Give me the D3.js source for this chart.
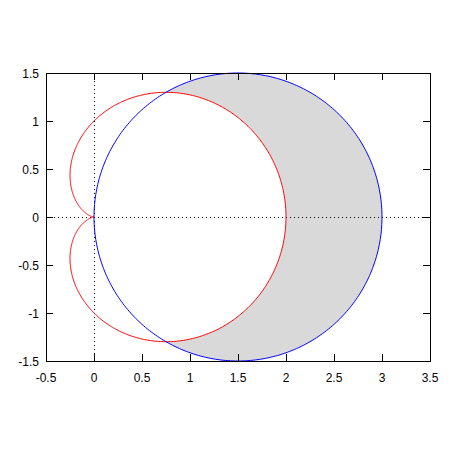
<!DOCTYPE html>
<html lang="en">
<head>
  <meta charset="UTF-8">
  <title>cardioid and circle</title>
  <script src="https://cdn.jsdelivr.net/npm/d3@7"></script>
  <style>
    body { margin: 0; background: #fff; }
    text { font-family: "Liberation Sans", Arial, sans-serif; font-size: 12px; fill: #000; }
  </style>
</head>
<body>
  <svg width="450" height="450" id="main"></svg>
<script>
  // tick labels
  const xTicks = [-0.5, 0, 0.5, 1, 1.5, 2, 2.5, 3, 3.5];
  const yTicks = [-1.5, -1, -0.5, 0, 0.5, 1, 1.5];
  // curve parameters: r = a + b*cos(t)  (cardioid), r = d*cos(t)  (circle)
  const cardioidAB = [1, 1];
  const circleD = [3];
  const xDomain = [-0.5, 3.5];
  const yDomain = [-1.5, 1.5];

  const svg = d3.select('#main');
  const box = { left: 46, right: 430, top: 73, bottom: 361 };

  const x = d3.scaleLinear().domain(xDomain).range([box.left, box.right]);
  const y = d3.scaleLinear().domain(yDomain).range([box.bottom, box.top]);

  // sample the polar curves
  const angles = d3.range(0, 721).map(i => i * Math.PI / 360);
  const cardPts = angles.map(t => {
    const r = cardioidAB[0] + cardioidAB[1] * Math.cos(t);
    return [r * Math.cos(t), r * Math.sin(t)];
  });
  const circPts = angles.slice(0, 361).map(t => {
    const r = circleD[0] * Math.cos(t);
    return [r * Math.cos(t), r * Math.sin(t)];
  });

  const line = d3.line().x(d => x(d[0])).y(d => y(d[1]));

  // shaded area: inside circle, outside cardioid
  svg.append('path').attr('d', line(circPts) + 'Z').attr('fill', '#d9d9d9');
  svg.append('path').attr('d', line(cardPts) + 'Z').attr('fill', '#fff');

  // zero axes (dotted)
  svg.append('line')
    .attr('x1', x(0)).attr('x2', x(0)).attr('y1', box.top).attr('y2', box.bottom)
    .attr('stroke', '#000').attr('stroke-dasharray', '1,3').attr('shape-rendering', 'crispEdges');
  svg.append('line')
    .attr('x1', box.left).attr('x2', box.right).attr('y1', y(0)).attr('y2', y(0))
    .attr('stroke', '#000').attr('stroke-dasharray', '1,3').attr('shape-rendering', 'crispEdges');

  // curves
  svg.append('path').attr('d', line(cardPts)).attr('fill', 'none').attr('stroke', '#ff0000').attr('stroke-width', 1);
  svg.append('path').attr('d', line(circPts)).attr('fill', 'none').attr('stroke', '#0000ff').attr('stroke-width', 1);

  // border + mirrored ticks
  const tickLen = 7;
  const g = svg.append('g').attr('shape-rendering', 'crispEdges');
  g.append('rect')
    .attr('x', box.left).attr('y', box.top)
    .attr('width', box.right - box.left).attr('height', box.bottom - box.top)
    .attr('fill', 'none').attr('stroke', '#000');

  xTicks.forEach(v => {
    g.append('line').attr('x1', x(v)).attr('x2', x(v)).attr('y1', box.bottom).attr('y2', box.bottom - tickLen).attr('stroke', '#000');
    g.append('line').attr('x1', x(v)).attr('x2', x(v)).attr('y1', box.top).attr('y2', box.top + tickLen).attr('stroke', '#000');
    svg.append('text').attr('x', x(v)).attr('y', box.bottom + 21)
      .attr('text-anchor', 'middle').text(v);
  });
  yTicks.forEach(v => {
    g.append('line').attr('x1', box.left).attr('x2', box.left + tickLen).attr('y1', y(v)).attr('y2', y(v)).attr('stroke', '#000');
    g.append('line').attr('x1', box.right).attr('x2', box.right - tickLen).attr('y1', y(v)).attr('y2', y(v)).attr('stroke', '#000');
    svg.append('text').attr('x', box.left - 7).attr('y', y(v) + 4.5)
      .attr('text-anchor', 'end').text(v);
  });
</script>
</body>
</html>
